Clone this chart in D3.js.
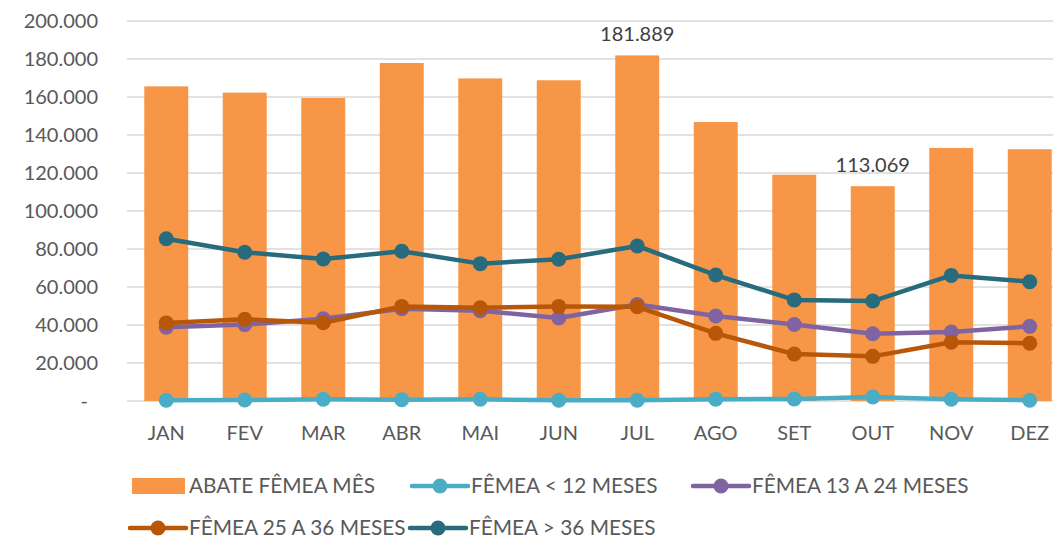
<!DOCTYPE html>
<html>
<head>
<meta charset="utf-8">
<script src="https://cdn.jsdelivr.net/npm/d3@7"></script>
<style>
  body { margin: 0; background: #fff; }
  svg text { font-family: Lato, "Open Sans", sans-serif; }
</style>
</head>
<body>
<script>
// months and series
var months = ["JAN", "FEV", "MAR", "ABR", "MAI", "JUN", "JUL", "AGO", "SET", "OUT", "NOV", "DEZ"];
var abateMes = [165600, 162300, 159500, 177900, 169800, 168800, 181889, 146800, 119100, 113069, 133200, 132500];
var ate12 = [400, 500, 900, 700, 900, 400, 400, 900, 1100, 2100, 900, 400];
var de13a24 = [38800, 40200, 43300, 48600, 47500, 43700, 50800, 44700, 40300, 35400, 36300, 39300];
var de25a36 = [41100, 43000, 41200, 49800, 49100, 49800, 49600, 35600, 24700, 23500, 30900, 30400];
var acima36 = [85400, 78300, 74700, 78800, 72300, 74600, 81600, 66300, 53200, 52600, 66100, 62800];
var yTicks = [0, 20000, 40000, 60000, 80000, 100000, 120000, 140000, 160000, 180000, 200000];
var labelled = ["JUL", "OUT"];

var W = 1053, H = 540;
var svg = d3.select("body").append("svg")
    .attr("width", W)
    .attr("height", H);

var x = d3.scaleBand().domain(months).range([127, 1069]).paddingInner(0.44).paddingOuter(0.22);
var y = d3.scaleLinear().domain([0, 200000]).range([401, 21]);

var fmt = function (v) {
    if (v === 0) return "-";
    return d3.format(",")(v).replace(/,/g, ".");
};

// gridlines
svg.append("g").selectAll("line")
    .data(yTicks)
    .enter().append("line")
    .attr("x1", 127).attr("x2", W)
    .attr("y1", d => y(d)).attr("y2", d => y(d))
    .style("stroke", "#d9d9d9")
    .style("stroke-width", 1.5);

// y labels
svg.append("g").selectAll("text")
    .data(yTicks)
    .enter().append("text")
    .attr("x", d => d === 0 ? 88 : 98)
    .attr("y", d => y(d))
    .attr("dy", "0.35em")
    .attr("text-anchor", "end")
    .style("font-size", "20px")
    .style("fill", "#595959")
    .text(fmt);

// bars
svg.append("g").selectAll("rect")
    .data(abateMes)
    .enter().append("rect")
    .attr("x", (d, i) => x(months[i]))
    .attr("width", x.bandwidth())
    .attr("y", d => y(d))
    .attr("height", d => y(0) - y(d))
    .style("fill", "#f79646");

// data labels on two bars
svg.append("g").selectAll("text")
    .data(abateMes.map((v, i) => ({m: months[i], v: v})).filter(d => labelled.indexOf(d.m) >= 0))
    .enter().append("text")
    .attr("x", d => x(d.m) + x.bandwidth() / 2)
    .attr("y", d => y(d.v) - 14)
    .attr("text-anchor", "middle")
    .style("font-size", "20px")
    .style("fill", "#404040")
    .text(d => fmt(d.v));

// x labels
svg.append("g").selectAll("text")
    .data(months)
    .enter().append("text")
    .attr("x", d => x(d) + x.bandwidth() / 2)
    .attr("y", 440)
    .attr("text-anchor", "middle")
    .style("font-size", "20px")
    .style("fill", "#595959")
    .text(d => d);

var series = [
    {name: "FÊMEA < 12 MESES", values: ate12, color: "#4bacc6"},
    {name: "FÊMEA 13 A 24 MESES", values: de13a24, color: "#8064a2"},
    {name: "FÊMEA 25 A 36 MESES", values: de25a36, color: "#b85708"},
    {name: "FÊMEA > 36 MESES", values: acima36, color: "#276b7c"}
];

var line = d3.line()
    .x((d, i) => x(months[i]) + x.bandwidth() / 2)
    .y(d => y(d));

series.forEach(function (s) {
    var g = svg.append("g");
    g.append("path")
        .attr("d", line(s.values))
        .style("fill", "none")
        .style("stroke", s.color)
        .style("stroke-width", 4.5)
        .style("stroke-linejoin", "round");
    g.selectAll("circle")
        .data(s.values)
        .enter().append("circle")
        .attr("cx", (d, i) => x(months[i]) + x.bandwidth() / 2)
        .attr("cy", d => y(d))
        .attr("r", 7.5)
        .style("fill", s.color);
});

// legend
var legend = svg.append("g");
var lx = [132, 412, 693, 130, 410];
var ly = [486, 486, 486, 528, 528];
legend.append("rect")
    .attr("x", lx[0]).attr("y", ly[0] - 8)
    .attr("width", 53).attr("height", 16)
    .style("fill", "#f79646");
legend.append("text")
    .attr("x", lx[0] + 57).attr("y", ly[0]).attr("dy", "0.35em")
    .style("font-size", "20.8px").style("fill", "#595959")
    .text("ABATE FÊMEA MÊS");
series.forEach(function (s, i) {
    var px = lx[i + 1], py = ly[i + 1];
    legend.append("line")
        .attr("x1", px).attr("x2", px + 56)
        .attr("y1", py).attr("y2", py)
        .style("stroke", s.color).style("stroke-width", 4.5)
        .style("stroke-linecap", "round");
    legend.append("circle")
        .attr("cx", px + 28).attr("cy", py).attr("r", 7.5)
        .style("fill", s.color);
    legend.append("text")
        .attr("x", px + 59).attr("y", py).attr("dy", "0.35em")
        .style("font-size", "20.8px").style("fill", "#595959")
        .text(s.name);
});
</script>
</body>
</html>
